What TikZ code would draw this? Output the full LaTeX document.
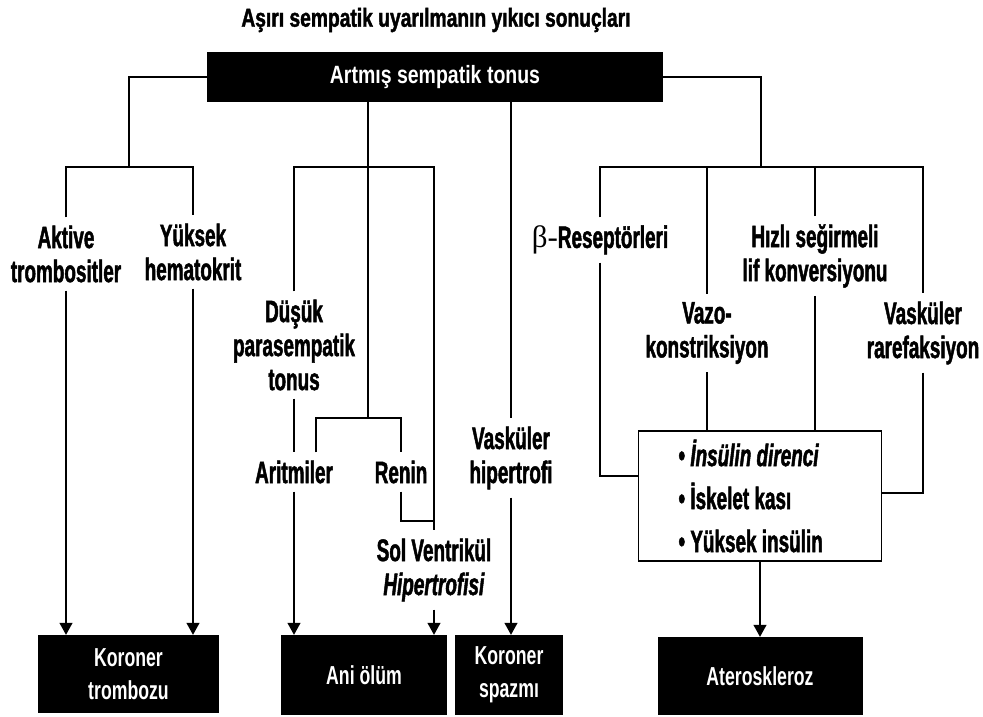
\documentclass[tikz,border=0pt]{standalone}
\usepackage{fontspec}
\setmainfont{Liberation Sans}[FakeStretch=0.61, BoldFeatures={FakeBold=1.5}, BoldItalicFeatures={FakeBold=1.5}]
\newfontfamily\titlefont{Liberation Sans}[FakeStretch=0.74, BoldFeatures={FakeBold=1.5}]
\newfontfamily\boxfont{Liberation Sans}[FakeStretch=0.68]
\newfontfamily\rootfont{Liberation Sans}[FakeStretch=0.78]
\newfontfamily\greekfont{Liberation Serif}
\usetikzlibrary{arrows.meta}

\tikzset{
  link/.style={line width=1.1pt},
  arr/.style={-{Triangle[width=13pt,length=12pt]}},
  lbl/.style={font=\bfseries\fontsize{31}{34}\selectfont, align=center,
              inner xsep=2pt, inner ysep=8pt},
  blk/.style={fill=black, text=white, align=center, inner sep=0pt,
              font=\boxfont\bfseries\fontsize{26}{33}\selectfont},
  insbox/.style={draw, line width=1.1pt, minimum width=243pt, minimum height=130pt,
              text width=163pt, align=flush left, inner xsep=40pt, inner ysep=0pt,
              font=\bfseries\fontsize{31}{43}\selectfont},
}

\begin{document}
\begin{tikzpicture}[x=1pt,y=-1pt]
\useasboundingbox (0,0) rectangle (983,716);

% title and root
\node[font=\titlefont\bfseries\fontsize{26}{30}\selectfont] (title) at (436,20)
  {Aşırı sempatik uyarılmanın yıkıcı sonuçları};
\node[blk, minimum width=456pt, minimum height=50pt,
      font=\rootfont\bfseries\fontsize{25}{30}\selectfont] (top) at (435,77)
  {Artmış sempatik tonus};

% intermediate labels
\node[lbl] (aktive) at (66,254) {Aktive\\trombositler};
\node[lbl] (yuksek) at (193,252) {Yüksek\\hematokrit};
\node[lbl] (dusuk)  at (294,345) {Düşük\\parasempatik\\tonus};
\node[lbl] (aritm)  at (294,472) {Aritmiler};
\node[lbl] (renin)  at (401,472) {Renin};
\node[lbl] (solv)   at (434,570) {Sol Ventrikül\\\textit{Hipertrofisi}};
\node[lbl] (vhip)   at (511,458) {Vasküler\\hipertrofi};
\node[lbl] (beta)   at (600,240) {{\greekfont\mdseries β-}Reseptörleri};
\node[lbl] (hizli)  at (815,256) {Hızlı seğirmeli\\lif konversiyonu};
\node[lbl] (vazo)   at (707,333) {Vazo-\\konstriksiyon};
\node[lbl] (vrare)  at (923,333) {Vasküler\\rarefaksiyon};

\node[insbox] (ins) at (760,496)
  {• \textit{İnsülin direnci}\\• İskelet kası\\• Yüksek insülin};

% outcomes
\node[blk, minimum width=181pt, minimum height=78pt] (kt)   at (128.5,674) {Koroner\\trombozu};
\node[blk, minimum width=166pt, minimum height=80pt] (ani)  at (364,675)   {Ani ölüm};
\node[blk, minimum width=108pt, minimum height=80pt] (ks)   at (509,675)   {Koroner\\spazmı};
\node[blk, minimum width=205pt, minimum height=78pt] (ater) at (760,676)   {Ateroskleroz};

% junction points
\coordinate (jL)   at (129,167);
\coordinate (jM)   at (368,167);
\coordinate (jR)   at (761,167);
\coordinate (jSub) at (368,418);
\coordinate (jA)   at (316,418);
\coordinate (jRen) at (434,521);
\coordinate (jB)   at (638.5,476);
\coordinate (jV)   at (881.5,493);

% left branch
\draw[link] (top.west) -| (jL);
\draw[link] (aktive.north) |- (jL) -| (yuksek.north);
\draw[link,arr] (aktive.south) -- (aktive.south |- kt.north);
\draw[link,arr] (yuksek.south) -- (yuksek.south |- kt.north);

% middle branches
\draw[link] (top.south -| jM) -- (jSub);
\draw[link] (dusuk.north) |- (jM) -| (solv.north);
\draw[link] (dusuk.south) -- (aritm.north);
\draw[link] (jA |- renin.north) |- (jSub) -| (renin.north);
\draw[link] (renin.south) |- (jRen);
\draw[link,arr] (aritm.south) -- (aritm.south |- ani.north);
\draw[link,arr] (solv.south) -- (solv.south |- ani.north);
\draw[link] (top.south -| vhip.north) -- (vhip.north);
\draw[link,arr] (vhip.south) -- (vhip.south |- ks.north);

% right branch
\draw[link] (top.east) -| (jR);
\draw[link] (beta.north) |- (jR) -| (vrare.north);
\draw[link] (vazo.north) -- (vazo.north |- jR);
\draw[link] (hizli.north) -- (hizli.north |- jR);
\draw[link] (beta.south) |- (jB);
\draw[link] (vazo.south) -- (vazo.south |- ins.north);
\draw[link] (hizli.south) -- (hizli.south |- ins.north);
\draw[link] (vrare.south) |- (jV);
\draw[link,arr] (ins.south) -- (ater.north);
\end{tikzpicture}
\end{document}
